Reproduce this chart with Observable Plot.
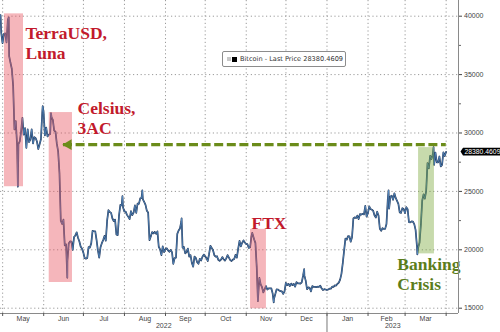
<!DOCTYPE html>
<html><head><meta charset="utf-8">
<script src="https://cdn.jsdelivr.net/npm/d3@7"></script>
<script src="https://cdn.jsdelivr.net/npm/@observablehq/plot@0.6"></script>
<style>
html,body{margin:0;padding:0;background:#fff;}
#chart{position:relative;width:500px;height:332px;overflow:hidden;}
#legend{position:absolute;left:222px;top:51px;width:122px;height:14px;border:1px solid #8c8c8c;border-radius:2px;background:#fff;
  font:6.6px "DejaVu Sans",Verdana,sans-serif;color:#333;display:flex;align-items:center;white-space:nowrap;}
#legend .g{display:inline-block;width:4px;height:4px;background:#c8c8c8;margin-left:4px;margin-right:1px;}
#legend .b{display:inline-block;width:5px;height:5px;background:#000;margin-right:3px;}
</style></head><body>
<div id="chart"><div id="legend"><span class="g"></span><span class="b"></span><span id="legtext"></span></div></div>
<script>
// ---- Data: daily closes (USD) ----
const closeStart = "2022-04-29";
const closesApr22 = [38600, 37700];
const closesMay22 = [38480,38530,37750,39700,36580,36010,35500,34060,30300,31020,28940,29050,29280,30100,31300,29860,30420,28720,30310,29210,29440,30320,29100,29650,29560,29270,28630,29030,29470,31730,31800];
const closesJun22 = [29800,30470,29700,29860,29910,31370,31130,30210,30110,29090,28420,26570,22490,22210,22580,20380,20470,19020,20550,20720,20710,19990,21090,21230,21500,21030,20730,20280,20100,19780];
const closesJul22 = [19300,19240,19300,20230,20190,20550,21620,21590,21590,20860,19970,19330,20210,20570,20830,21190,20780,22490,23390,23230,23160,22680,22460,22580,21310,21250,22950,23840,23800,23640,23290];
const closesAug22 = [23270,22990,22820,22620,23310,22960,23180,23810,23160,23950,23930,24400,24440,24310,24100,23850,23340,23190,20830,21140,21520,21400,21530,21370,21580,20260,20040,19550,20290,19800,20050];
const closesSep22 = [20130,19950,19830,19990,19800,18790,19290,19320,21360,21650,21830,22400,20170,20240,19700,19800,20110,19420,19540,18880,18550,19410,19300,18930,18800,19230,19080,19410,19590,19430];
const closesOct22 = [19310,19040,19620,20340,20160,19960,19530,19420,19450,19140,19050,19160,19380,19190,19070,19270,19550,19330,19120,19040,19160,19210,19570,19330,20090,20770,20290,20600,20810,20630,20490];
const closesNov22 = [20480,20160,20210,21150,21300,20910,20590,18540,15880,17590,17040,16800,16350,16620,16900,16600,16690,16700,16700,16280,15780,16190,16610,16600,16520,16460,16440,16220,16440,17170];
const closesDec22 = [16970,17090,16890,17110,16970,17090,16840,17230,17130,17130,17100,17210,17780,17810,17360,16630,16780,16740,16440,16900,16820,16830,16800,16840,16830,16920,16710,16550,16630,16600,16550];
const closesJan23 = [16610,16670,16670,16850,16830,16950,16940,17090,17190,17450,17940,18850,19930,20950,20870,21170,21160,20690,21080,22680,22780,22710,22930,22630,23060,23010,23080,23030,23770,22840,23140];
const closesFeb23 = [23720,23490,23430,23330,22930,22760,23260,22940,21800,21630,21860,21780,21790,22200,24330,23520,24570,24630,24280,24840,24440,24190,23940,23200,23160,23560,23490,23150];
const closesMar23 = [23650,23480,22360,22350,22430,22410,22200,21710,20360,20190,20630,22160,24200,24750,24380,25050,27420,26970,28040,27770,28180,27270,28330,27490,27490,27990,27140,27270,28350,28030,28380.4609];

// intraday extremes
const intradayTimes = ["2022-04-29T10:00Z","2022-05-05T14:00Z","2022-05-12T12:00Z","2022-05-31T06:00Z","2022-06-06T12:00Z","2022-06-18T20:00Z","2022-07-30T12:00Z","2022-08-14T12:00Z","2022-09-13T04:00Z","2022-11-05T12:00Z","2022-11-09T20:00Z","2022-11-21T18:00Z","2022-12-14T18:00Z","2023-02-16T12:00Z","2023-03-10T06:00Z","2023-03-22T12:00Z"];
const intradayValues = [40100,39900,25400,32300,31700,17600,24600,25100,22700,21450,15600,15500,18350,25100,19600,28800];

// ---- Events ----
const eventLabels = ["TerraUSD,\nLuna","Celsius,\n3AC","FTX","Banking\nCrisis"];
const eventStart = ["2022-05-02T09:00Z","2022-06-05T04:00Z","2022-11-04T06:00Z","2023-03-11T04:00Z"];
const eventEnd   = ["2022-05-16T18:00Z","2022-06-22T18:00Z","2022-11-16T06:00Z","2023-03-23T04:00Z"];
const eventLow   = [25400,17200,14950,19650];
const eventHigh  = [40200,31750,21750,28750];
const eventKind  = ["crash","crash","crash","rally"];
const labelTimes = ["2022-05-18T06:00Z","2022-06-26T14:00Z","2022-11-04T23:00Z","2023-02-23T02:00Z"];
const labelTops  = [39200,32780,22940,19430];

// arrow back to pre-Celsius level
const arrowLevel = 29000;
const arrowFrom = "2022-06-15T23:00Z";
const arrowTo = "2023-04-01T02:00Z";

// ---- Axes ----
const yTicks = [15000,20000,25000,30000,35000,40000];
const yMinor = [17500,22500,27500,32500,37500];
const seriesName = "Bitcoin - Last Price";
const lastPrice = 28380.4609;

// ---- build ----
const t0 = new Date(closeStart + "T22:00Z");
const closes = [closesApr22,closesMay22,closesJun22,closesJul22,closesAug22,closesSep22,closesOct22,closesNov22,closesDec22,closesJan23,closesFeb23,closesMar23].flat();
const series = closes.map((v,i)=>({date:d3.utcDay.offset(t0,i), value:v}))
  .concat(intradayTimes.map((t,i)=>({date:new Date(t), value:intradayValues[i]})))
  .sort((a,b)=>a.date-b.date);

const xDomain = [new Date("2022-04-29T09:00Z"), new Date("2023-04-10T08:00Z")];
const yDomain = [14546, 41344];
const monthStarts = d3.utcMonth.range(d3.utcMonth.ceil(xDomain[0]), xDomain[1]);
const fullMonths = monthStarts.slice(0,-1).map(m=>new Date((+m + +d3.utcMonth.offset(m,1))/2));
const jan1 = new Date("2023-01-01T00:00Z");
const yearMids = [new Date((+xDomain[0] + +jan1)/2), new Date((+jan1 + +xDomain[1])/2)];

const events = eventLabels.map((l,i)=>({label:l, x1:new Date(eventStart[i]), x2:new Date(eventEnd[i]), y1:eventLow[i], y2:eventHigh[i], kind:eventKind[i], lx:new Date(labelTimes[i]), ly:labelTops[i]}));
const fillOf = k => k==="crash" ? "#e8525e" : "#7aa83a";
const textOf = k => k==="crash" ? "#c21a2c" : "#5b7d1b";

const grid = {stroke:"#9a9a9a", strokeWidth:1, strokeDasharray:"1.2,2.6"};
const axisFont = "Liberation Sans, Arial, sans-serif";

const plot = Plot.plot({
  width:500, height:332,
  marginLeft:0, marginRight:42, marginTop:0, marginBottom:19,
  x:{type:"utc", domain:xDomain, axis:null},
  y:{domain:yDomain, axis:null},
  style:{fontFamily:axisFont, background:"#fff"},
  marks:[
    Plot.ruleY(yTicks, grid),
    Plot.ruleX(monthStarts, grid),
    Plot.line(series, {x:"date", y:"value", stroke:"#1f3354", strokeWidth:1.7, clip:true}),
    Plot.line(series, {x:"date", y:"value", stroke:"#5b95cf", strokeWidth:0.7, clip:true}),
    Plot.rect(events, {x1:"x1", x2:"x2", y1:"y1", y2:"y2", fill:d=>fillOf(d.kind), fillOpacity:0.42}),
    Plot.ruleY([arrowLevel], {y:d=>d, x1:()=>new Date(arrowFrom), x2:()=>new Date(arrowTo), stroke:"#6b8c1a", strokeWidth:3.2, strokeDasharray:"9,3.6"}),
    Plot.dot([arrowLevel], {x:()=>new Date(arrowFrom), y:d=>d, symbol:"triangle", r:4, rotate:-90, fill:"#6b8c1a", stroke:"none", dx:5}),
    Plot.text(events, {x:"lx", y:"ly", text:"label", fill:d=>textOf(d.kind), textAnchor:"start", lineAnchor:"top", fontSize:17.5, fontWeight:"bold", fontFamily:"Liberation Serif, Times New Roman, serif", lineHeight:1.12}),
    Plot.ruleY([yDomain[0]], {stroke:"#8a8a8a", strokeWidth:1}),
    Plot.ruleX([xDomain[1]], {stroke:"#8a8a8a", strokeWidth:1}),
    Plot.axisY(yTicks, {anchor:"right", tickSize:3, tickPadding:2.5, fontSize:7, color:"#444", tickFormat:"d"}),
    Plot.axisY(yMinor, {anchor:"right", tickSize:2, tickFormat:()=>"" , color:"#666"}),
    Plot.axisX(monthStarts, {tickSize:3, tickFormat:()=>"", color:"#555"}),
    Plot.axisX([jan1], {tickSize:19, tickFormat:()=>"", color:"#777"}),
    Plot.axisX(fullMonths, {tickSize:0, tickPadding:3, fontSize:7, color:"#444", tickFormat:d3.utcFormat("%b")}),
    Plot.axisX(yearMids, {tickSize:0, tickPadding:10, fontSize:7, color:"#444", tickFormat:d3.utcFormat("%Y")}),
    Plot.text([lastPrice], {y:d=>d, text:d=>d.toFixed(4), frameAnchor:"right", dx:6, textAnchor:"start", fill:"white", fontSize:6.8})
  ]
});
const chart = document.getElementById("chart");
chart.insertBefore(plot, chart.firstChild);
document.getElementById("legtext").textContent = seriesName + " " + lastPrice.toFixed(4);

// dark tag behind last price
const lastLabel = lastPrice.toFixed(4);
d3.select(plot).selectAll("text").filter(function(){return this.textContent === lastLabel;}).each(function(){
  const b = this.getBBox();
  const x0=b.x-1.5, x1=b.x+b.width+3, y0=b.y-0.3, y1=b.y+b.height+0.3, ym=(y0+y1)/2;
  const p = document.createElementNS("http://www.w3.org/2000/svg","path");
  p.setAttribute("d", `M${x0-2.5},${ym}L${x0},${y0}H${x1}V${y1}H${x0}Z`);
  p.setAttribute("fill","#000");
  if (this.getAttribute("transform")) p.setAttribute("transform", this.getAttribute("transform"));
  this.parentNode.insertBefore(p, this);
});
</script>
</body></html>
